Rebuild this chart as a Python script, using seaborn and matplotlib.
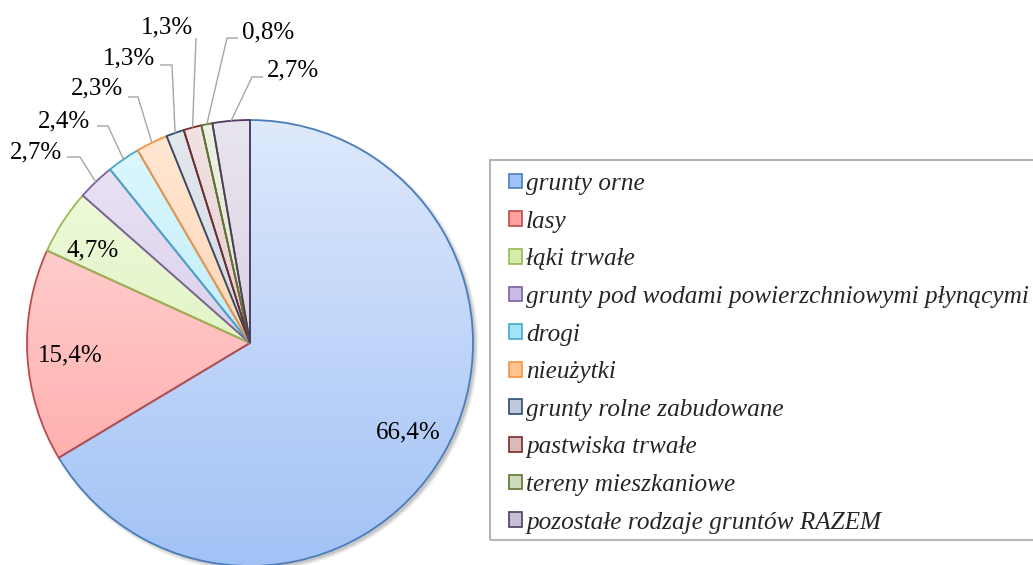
import numpy as np
import matplotlib
matplotlib.use("Agg")
import matplotlib.pyplot as plt
import seaborn as sns
from matplotlib.colors import LinearSegmentedColormap
from matplotlib.patches import Patch, Rectangle, Circle

categories = ["grunty orne", "lasy", "łąki trwałe",
              "grunty pod wodami powierzchniowymi płynącymi", "drogi",
              "nieużytki", "grunty rolne zabudowane", "pastwiska trwałe",
              "tereny mieszkaniowe", "pozostałe rodzaje gruntów RAZEM"]
values = [66.4, 15.4, 4.7, 2.7, 2.4, 2.3, 1.3, 1.3, 0.8, 2.7]

edge_colors = ["#4A7EBB", "#BE4B48", "#98B954", "#7D60A0", "#46AAC5",
               "#F69240", "#2C4D75", "#772C2A", "#5F7530", "#4D3B62"]
fill_top = ["#DEE9FC", "#FFDEDE", "#F2FBE2", "#EDE6F6", "#E0F8FE",
            "#FFE8D6", "#E4E8EE", "#F1E3E3", "#ECF2E5", "#E9E5EE"]
fill_bottom = ["#A2C2F6", "#FFA2A0", "#D3EEAC", "#C9BAE4", "#A2E4F6",
               "#FFC492", "#C0CADA", "#D8BABA", "#CDDABD", "#C9C0D5"]

# label layout (pixel positions of text centres); None leader => inside label
label_pos = [(408, 432), (70, 355), (93, 250), (36, 152), (64, 121),
             (97, 88), (129, 58), (167, 27), (268, 32), (293, 70)]
leader = [None, None, None,
          ((67, 157), (80, 157)), ((97, 126), (108, 126)),
          ((128, 97), (138, 97)), ((160, 65), (172, 65)),
          ((196, 38), (196, 38)), ((238, 38), (227, 38)),
          ((263, 77), (252, 77))]

sns.set_theme(style="white")
FONT = ["Liberation Serif", "DejaVu Serif"]
plt.rcParams['font.family'] = FONT

W, H = 1033, 565
fig = plt.figure(figsize=(W / 100, H / 100), dpi=100)
ax = fig.add_axes([0, 0, 1, 1])
cx, cy, R = 250, 343, 223


def to_data(x, y):
    return ((x - cx) / R, (cy - y) / R)


# faint shadow
for k, a in [(1.012, 0.06), (1.006, 0.08), (1.0, 0.10)]:
    ax.add_patch(Circle((0.012, -0.012), k, color="black", alpha=a, lw=0, zorder=0))

wedges, _ = ax.pie(values, startangle=90, counterclock=False, radius=1,
                   center=(0, 0),
                   wedgeprops=dict(linewidth=1.3, facecolor="none"))
grad = np.linspace(0, 1, 256).reshape(-1, 1)
for w, ec, ft, fb in zip(wedges, edge_colors, fill_top, fill_bottom):
    w.set_edgecolor(ec)
    w.set_facecolor("none")
    w.set_zorder(3)
    cmap = LinearSegmentedColormap.from_list("g", [ft, fb])
    im = ax.imshow(grad, extent=[-1, 1, -1, 1], cmap=cmap, origin="upper",
                   aspect="auto", zorder=2, interpolation="bilinear")
    im.set_clip_path(w)

txt_kw = dict(fontsize=18, color="black", ha="center", va="center", zorder=5)
for i, (v, w) in enumerate(zip(values, wedges)):
    lab = f"{v:.1f}%".replace(".", ",")
    tx, ty = to_data(*label_pos[i])
    ax.text(tx, ty, lab, **txt_kw)
    if leader[i] is not None:
        mid = np.deg2rad((w.theta1 + w.theta2) / 2)
        ex, ey = np.cos(mid), np.sin(mid)
        (x0, y0), (x1, y1) = [to_data(*p) for p in leader[i]]
        ax.plot([x0, x1, ex], [y0, y1, ey], color="#A6A6A6", lw=1.0,
                zorder=4, solid_capstyle="butt")

ax.set_xlim(-cx / R, (W - cx) / R)
ax.set_ylim((cy - H) / R, cy / R)
ax.set_aspect("equal")
ax.axis("off")

# size legend font so the longest entry spans ~503 px as in the reference
renderer = fig.canvas.get_renderer()
probe = fig.text(0, 0, max(categories, key=len), fontsize=18, style="italic")
pw = probe.get_window_extent(renderer).width
probe.remove()
leg_size = 18 * 503 / pw

# legend box (extends past right edge as in reference)
fig.patches.append(Rectangle((490 / W, 1 - 540 / H), 600 / W, 380 / H,
                             transform=fig.transFigure, fill=False,
                             ec="#B5B5B5", lw=1.5))
handles = [Patch(facecolor=ft, edgecolor=ec, linewidth=1.2)
           for ft, ec in zip(fill_bottom, edge_colors)]
fs_px = leg_size * 100 / 72
fig.legend(handles, categories, loc="upper left",
           bbox_to_anchor=(509 / W, 1 - 173 / H), frameon=False,
           prop=dict(style="italic", size=leg_size, family=FONT),
           handlelength=13 / fs_px, handleheight=13 / fs_px,
           handletextpad=4 / fs_px,
           labelspacing=(38 - 0.885 * fs_px) / fs_px, borderpad=0,
           borderaxespad=0)

fig.savefig("out.png", dpi=100)
